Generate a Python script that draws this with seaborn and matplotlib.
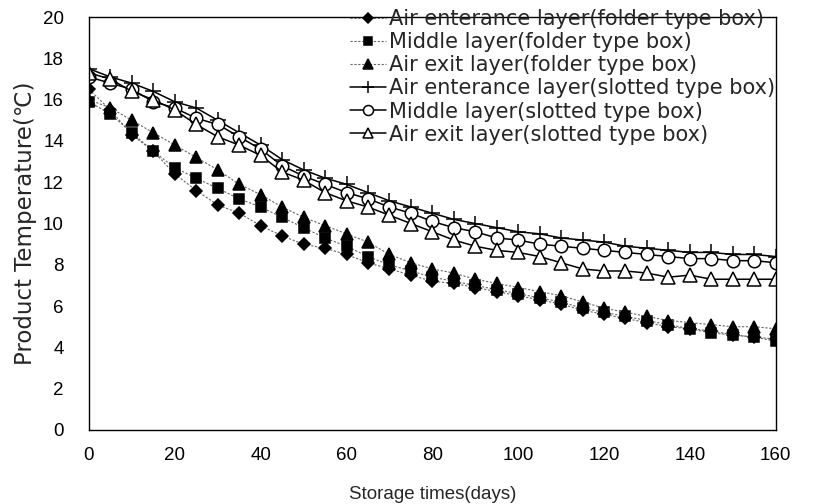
import pandas as pd
import matplotlib
matplotlib.use("Agg")
import matplotlib.pyplot as plt
import seaborn as sns

# storage days (every 5 days)
days = list(range(0, 165, 5))

# folder type box
air_in_folder = [16.5, 15.5, 14.3, 13.5, 12.4, 11.6, 10.9, 10.5, 9.9, 9.4, 9.0, 8.8, 8.5, 8.1, 7.8, 7.5, 7.2,
                 7.1, 6.9, 6.7, 6.5, 6.3, 6.1, 5.8, 5.6, 5.4, 5.2, 5.0, 4.9, 4.8, 4.6, 4.5, 4.4]
middle_folder = [15.9, 15.3, 14.4, 13.5, 12.7, 12.2, 11.7, 11.2, 10.8, 10.3, 9.8, 9.3, 8.9, 8.4, 8.0, 7.7, 7.4,
                 7.2, 7.0, 6.8, 6.6, 6.4, 6.2, 5.9, 5.7, 5.5, 5.3, 5.1, 4.9, 4.7, 4.6, 4.5, 4.3]
air_out_folder = [16.0, 15.6, 15.0, 14.4, 13.8, 13.2, 12.6, 11.9, 11.4, 10.8, 10.3, 9.9, 9.5, 9.1, 8.5, 8.1, 7.8,
                  7.6, 7.3, 7.1, 6.9, 6.7, 6.5, 6.2, 5.9, 5.7, 5.5, 5.3, 5.2, 5.1, 5.0, 5.0, 4.9]

# slotted type box
air_in_slotted = [17.5, 17.1, 16.8, 16.4, 15.9, 15.6, 15.0, 14.4, 13.8, 13.1, 12.6, 12.2, 11.9, 11.5, 11.1, 10.8, 10.5,
                  10.2, 10.0, 9.8, 9.6, 9.5, 9.3, 9.2, 9.1, 8.9, 8.8, 8.7, 8.6, 8.6, 8.5, 8.5, 8.4]
middle_slotted = [17.1, 16.8, 16.5, 15.9, 15.6, 15.1, 14.8, 14.2, 13.6, 12.8, 12.3, 11.9, 11.5, 11.2, 10.8, 10.5, 10.1,
                  9.8, 9.6, 9.3, 9.2, 9.0, 8.9, 8.8, 8.7, 8.6, 8.5, 8.4, 8.3, 8.3, 8.2, 8.2, 8.1]
air_out_slotted = [17.3, 17.0, 16.4, 16.0, 15.5, 14.8, 14.2, 13.8, 13.3, 12.5, 12.1, 11.5, 11.1, 10.8, 10.4, 10.0, 9.6,
                   9.2, 8.9, 8.7, 8.6, 8.4, 8.1, 7.8, 7.7, 7.7, 7.6, 7.4, 7.5, 7.3, 7.3, 7.3, 7.3]

labels = ['Air enterance layer(folder type box)', 'Middle layer(folder type box)',
          'Air exit layer(folder type box)', 'Air enterance layer(slotted type box)',
          'Middle layer(slotted type box)', 'Air exit layer(slotted type box)']
series = [air_in_folder, middle_folder, air_out_folder, air_in_slotted, middle_slotted, air_out_slotted]

sns.set_style("white")
plt.rcParams["font.family"] = ["Liberation Sans", "DejaVu Sans"]

fig = plt.figure(figsize=(8.2, 5.04), dpi=100)
ax = fig.add_axes([0.1085, 0.147, 0.8375, 0.819])

# 样式: marker, facecolor, line style
styles = [
    dict(marker='D', mfc='black', ms=6.5, ls=(0, (2, 1.5)), color='#666666', lw=0.8),
    dict(marker='s', mfc='black', ms=7, ls=(0, (2, 1.5)), color='#666666', lw=0.8),
    dict(marker='^', mfc='black', ms=8.5, ls=(0, (2, 1.5)), color='#666666', lw=0.8),
    dict(marker='+', mfc='black', ms=11, ls='-', color='black', lw=1.1),
    dict(marker='o', mfc='white', ms=9, ls='-', color='black', lw=1.1),
    dict(marker='^', mfc='white', ms=9.5, ls='-', color='black', lw=1.1),
]

for lab, vals, st in zip(labels, series, styles):
    df = pd.DataFrame({'day': days, 'temp': vals})
    sns.lineplot(data=df, x='day', y='temp', ax=ax, label=lab,
                 color=st['color'], linewidth=st['lw'], linestyle=st['ls'],
                 marker=st['marker'], markersize=st['ms'], markerfacecolor=st['mfc'],
                 markeredgecolor='black', markeredgewidth=1.1)

ax.set_xlim(0, 160)
ax.set_ylim(0, 20)
ax.set_xticks(range(0, 161, 20))
ax.set_yticks(range(0, 21, 2))
ax.tick_params(axis='both', direction='in', length=5, width=0.8, colors='black', labelsize=13.5)
ax.tick_params(axis='x', pad=12)
ax.tick_params(axis='y', pad=18)
for s in ax.spines.values():
    s.set_color('black')
    s.set_linewidth(1.0)

ax.set_xlabel('Storage times(days)', fontsize=13.5, labelpad=16)
ax.set_ylabel('Product Temperature(\u2103)', fontsize=16.5, family='DejaVu Sans', labelpad=4)

leg = ax.legend(loc='upper left', bbox_to_anchor=(0.427, 0.982), bbox_transform=fig.transFigure,
                frameon=False, fontsize=15, handlelength=1.7, handletextpad=0.15,
                labelspacing=0.15, borderaxespad=0, borderpad=0, markerscale=0.8)
for t in leg.get_texts():
    t.set_family('DejaVu Sans')

fig.savefig('out.png', dpi=100)
